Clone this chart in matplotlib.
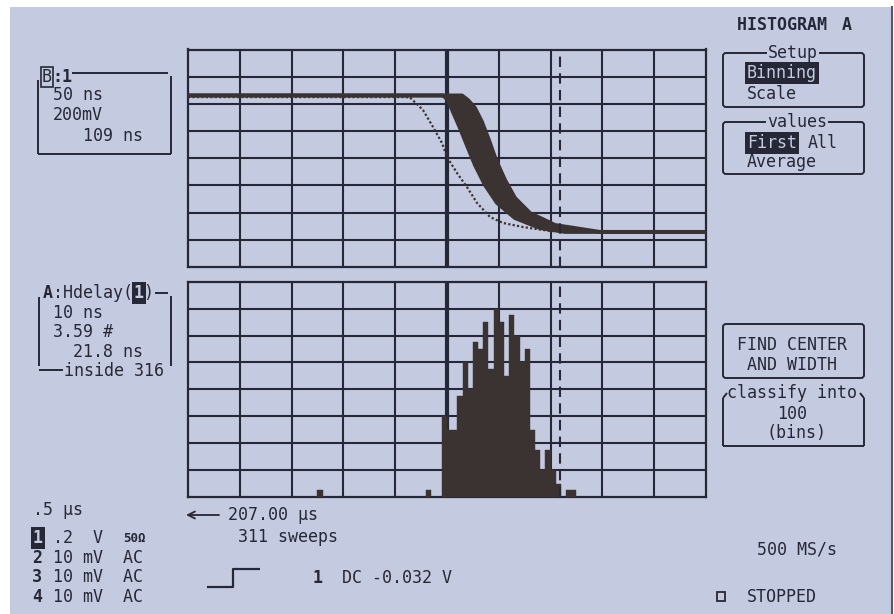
import matplotlib
matplotlib.use("Agg")
import matplotlib.pyplot as plt
from matplotlib.patches import Rectangle, FancyBboxPatch

W, H = 895, 614
BG = "#c4cae0"
INK = "#262838"
TRACE = "#3a3331"
FONT = "DejaVu Sans Mono"

# ---- channel 1 trace (50 ns/div, 200 mV/div); time in ns, level in mV ----
single_t = [-250, -40.5, -35.7, -23.2, -13.5, -4.8, 0, 9.7, 19.3, 29, 41.5, 54, 73.4, 99.4, 128, 250]
single_v = [450, 450, 447, 355, 230, 112, 9, -109, -212, -329, -432, -476, -506, -535, -542, -542]

# persistence envelope of the accumulated sweeps: earliest and latest falling edge
early_t = [-250, -3.9, 1.0, 5.8, 12.5, 20.3, 27.0, 36.7, 48.3, 65.6, 89.7, 113.8, 250]
early_v = [462, 462, 428, 340, 222, 75, -50, -197, -329, -440, -513, -542, -542]
late_t = [-250, 14.5, 20.3, 27.0, 33.8, 40.5, 47.3, 56.0, 65.6, 80.1, 104.3, 147.7, 250]
late_v = [462, 462, 428, 370, 267, 134, -13, -160, -292, -403, -491, -542, -542]

cursor_upper_ns = 109.0   # B: 109 ns
cursor_lower_ns = 21.8    # A: 21.8 ns

# ---- histogram of Hdelay (10 ns/div, 1 ns bins) ----
bin_left_ns = [-25, -4, -1, 0, 1, 2, 3, 4, 5, 6, 7, 8, 9, 10, 11, 12, 13, 14,
               15, 16, 17, 18, 19, 20, 21, 23, 24]
bin_counts = [1, 1, 12, 10, 10, 15, 20, 16, 23, 22, 26, 19, 28, 26, 18, 27, 24, 20,
              22, 10, 7, 4, 7, 4, 2, 1, 1]

fig = plt.figure(figsize=(W / 100, H / 100), dpi=100, facecolor="white")

# screen layer in pixel units for panels, boxes and readouts
bg = fig.add_axes([0, 0, 1, 1])
bg.set_xlim(0, W)
bg.set_ylim(H, 0)
bg.axis("off")
bg.add_patch(Rectangle((10, 7), 882, 610, facecolor=BG, edgecolor="none"))
bg.plot([892, 892], [7, 614], color="#55586a", lw=1.5)


def txt(x, y, s, ha="left", **kw):
    kw.setdefault("fontsize", 12)
    kw.setdefault("color", INK)
    bg.text(x, y, s, ha=ha, va="center", family=FONT, **kw)


def inv(x, y, s, ha="left", **kw):
    txt(x, y, s, ha=ha, color=BG,
        bbox=dict(facecolor=INK, edgecolor="none", pad=1.2), **kw)


def line(xs, ys, lw=1.4):
    bg.plot(xs, ys, color=INK, lw=lw, solid_capstyle="butt")


def rbox(x0, y0, x1, y1):
    bg.add_patch(FancyBboxPatch((x0, y0), x1 - x0, y1 - y0,
                                boxstyle="round,pad=0,rounding_size=3",
                                facecolor="none", edgecolor=INK, lw=1.4))


# ---- grids ----
gx0, gx1 = 188, 706
up_top, up_bot = 49.5, 267
lo_top, lo_bot = 281.7, 497

ax_u = fig.add_axes([gx0 / W, 1 - up_bot / H, (gx1 - gx0) / W, (up_bot - up_top) / H])
ax_l = fig.add_axes([gx0 / W, 1 - lo_bot / H, (gx1 - gx0) / W, (lo_bot - lo_top) / H])


def graticule(ax, x0, x1, y0, y1):
    ax.set_xlim(x0, x1)
    ax.set_ylim(y0, y1)
    ax.set_facecolor("none")
    for sp in ax.spines.values():
        sp.set_color(INK)
        sp.set_linewidth(1.6)
    ax.set_xticks([])
    ax.set_yticks([])
    dx = (x1 - x0) / 10
    dy = (y1 - y0) / 8
    for i in range(1, 10):
        ax.axvline(x0 + i * dx, color=INK, lw=3.0 if i == 5 else 1.5, zorder=1)
    for j in range(1, 8):
        ax.axhline(y0 + j * dy, color=INK, lw=1.5, zorder=1)


graticule(ax_u, -250, 250, -800, 800)
graticule(ax_l, -50, 50, 0, 32)

# upper: accumulated falling edges plus one single sweep
ax_u.fill(early_t + late_t[::-1], early_v + late_v[::-1], color=TRACE, lw=0, zorder=3)
ax_u.plot(early_t, early_v, color=TRACE, lw=2.8, zorder=3)
ax_u.plot(late_t, late_v, color=TRACE, lw=2.8, zorder=3)
ax_u.plot(single_t, single_v, color=TRACE, lw=1.6, ls=(0, (1, 1.0)), zorder=3)
ax_u.axvline(cursor_upper_ns, color=INK, lw=1.5, ls=(0, (5, 3)), zorder=4)

# lower: histogram
ax_l.bar(bin_left_ns, bin_counts, width=1.0, align="edge", color=TRACE,
         edgecolor=TRACE, lw=0.3, zorder=3)
ax_l.axvline(cursor_lower_ns, color=INK, lw=1.5, ls=(0, (5, 3)), zorder=4)

# ---- B box (upper trace parameters) ----
line([72, 168], [73, 73]); line([171, 171], [76, 154]); line([38.5, 171], [154, 154])
line([38.5, 38.5], [80, 154])
txt(42, 77, "B", bbox=dict(facecolor="none", edgecolor=INK, pad=0.6, lw=1.2))
txt(52, 77, ":1", fontweight="bold")
txt(53, 95, "50 ns")
txt(53, 115, "200mV")
txt(83, 136, "109 ns")

# ---- A box (histogram parameters) ----
line([155, 168], [293, 293]); line([171, 171], [296, 366])
line([39, 39], [297, 366]); line([39, 63], [370, 370])
txt(43, 293, "A", fontweight="bold")
txt(53, 293, ":Hdelay(")
inv(134, 293, "1", fontweight="bold")
txt(143, 293, ")")
txt(53, 313, "10 ns")
txt(53, 332, "3.59 #")
txt(73, 352, "21.8 ns")
txt(64, 371, "inside 316")

# ---- right-hand menu ----
txt(737, 25, "HISTOGRAM ", fontweight="bold")
txt(842, 25, "A", fontweight="bold")
rbox(723, 53, 864, 107)
txt(793, 53, "Setup", ha="center", bbox=dict(facecolor=BG, edgecolor="none", pad=0.5))
inv(747, 73, "Binning")
txt(747, 94, "Scale")
rbox(723, 122, 864, 174)
txt(797, 122, "values", ha="center", bbox=dict(facecolor=BG, edgecolor="none", pad=0.5))
inv(747, 143, "First")
txt(808, 143, "All")
txt(747, 162, "Average")

rbox(723, 324, 864, 378)
txt(792, 345, "FIND CENTER", ha="center")
txt(792, 365, "AND WIDTH", ha="center")

line([723, 723], [398, 446]); line([864, 864], [398, 446]); line([723, 864], [446, 446])
line([723, 727], [398, 393]); line([864, 860], [398, 393])
txt(792, 393, "classify into", ha="center")
txt(792, 414, "100", ha="center")
txt(797, 433, "(bins)", ha="center")

# ---- bottom readouts ----
txt(33, 510, ".5 µs")
inv(33, 538, "1", fontweight="bold")
txt(53, 538, ".2  V")
txt(123, 538, "50Ω", fontsize=9, fontweight="bold")
for yy, ch in [(558, "2"), (577, "3"), (597, "4")]:
    txt(32, yy, ch, fontweight="bold")
    txt(53, yy, "10 mV  AC")

bg.annotate("", xy=(186, 515), xytext=(219, 515),
            arrowprops=dict(arrowstyle="->,head_length=0.5,head_width=0.25",
                            color=INK, lw=1.3, shrinkA=0, shrinkB=0))
txt(228, 515, "207.00 µs")
txt(238, 537, "311 sweeps")
line([207, 233, 233, 260], [587, 587, 569, 569], lw=1.6)
txt(313, 578, "1", fontweight="bold")
txt(342, 578, "DC -0.032 V")

txt(757, 550, "500 MS/s")
bg.add_patch(Rectangle((717, 592), 8, 9, facecolor="none", edgecolor=INK, lw=1.3))
txt(747, 597, "STOPPED")

fig.savefig("out.png", dpi=100, facecolor="white")
